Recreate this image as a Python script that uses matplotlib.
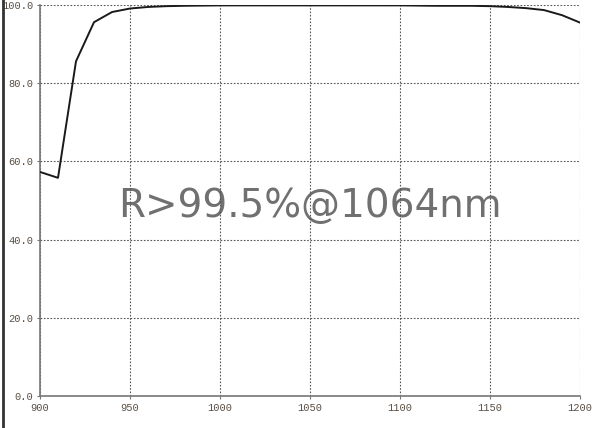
import matplotlib
matplotlib.use('Agg')
import matplotlib.pyplot as plt
from matplotlib.lines import Line2D

# wavelength (nm) and reflectance (%)
wavelength  = [900, 910, 920, 930, 940, 950, 960, 970, 980, 1000, 1020, 1040, 1060,
               1080, 1100, 1120, 1140, 1150, 1160, 1170, 1180, 1190, 1200]
reflectance = [57.3, 55.8, 85.6, 95.6, 98.2, 99.1, 99.5, 99.7, 99.8, 99.9, 99.9, 99.9, 99.9,
               99.9, 99.9, 99.8, 99.8, 99.7, 99.5, 99.2, 98.7, 97.4, 95.5]
xticks = [900, 950, 1000, 1050, 1100, 1150, 1200]
yticks = [0, 20, 40, 60, 80, 100]
label = 'R>99.5%@1064nm'

fig = plt.figure(figsize=(6, 4.28), dpi=100)
ax = fig.add_axes([40/600, 1-396/428, 540/600, 391/428])

ax.plot(wavelength, reflectance, color='#1a1a1a', lw=1.4, zorder=3)
ax.set_xlim(900, 1200)
ax.set_ylim(0, 100)
ax.set_xticks(xticks)
ax.set_yticks(yticks)
ax.set_xticklabels([str(t) for t in xticks])
ax.set_yticklabels(['%.1f' % t for t in yticks])
ax.grid(True, color='#555555', ls=(0, (1.5, 1.5)), lw=0.8)
for t in ['top', 'right']:
    ax.spines[t].set_visible(False)
for t in ['left', 'bottom']:
    ax.spines[t].set_color('#777777')
    ax.spines[t].set_linewidth(1.2)
ax.tick_params(length=2, width=0.8, color='#777777', labelsize=7.5,
               labelcolor='#5a4f45', pad=3)
for lab in ax.get_xticklabels() + ax.get_yticklabels():
    lab.set_family('Liberation Mono')

ax.text(0.5, (396-217)/391, label, transform=ax.transAxes, ha='center', va='baseline',
        fontsize=28, color='#707070', family='DejaVu Sans', zorder=1)

# dark edge on the left of the image
fig.add_artist(Line2D([2.5/600, 2.5/600], [0, 1], color='#333333', lw=2,
                      transform=fig.transFigure))

fig.savefig('out.png', dpi=100)
